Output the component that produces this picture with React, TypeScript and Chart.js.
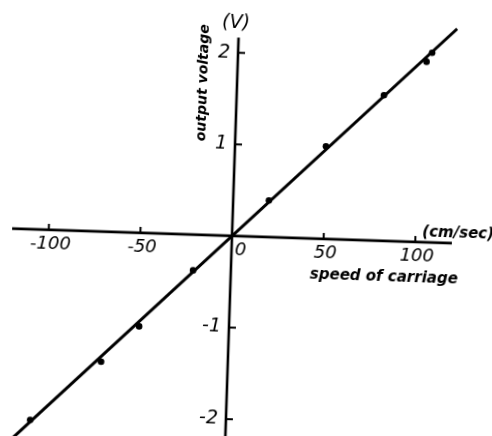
import { useEffect, useRef } from "react";
import { Chart, registerables } from "chart.js";

Chart.register(...registerables);

// Measured output voltage against carriage speed
const speeds = [-106.7, -69.1, -49.0, -20.6, 19.5, 49.6, 80.3, 102.9, 105.8];
const voltages = [-2.08, -1.42, -1.02, -0.39, 0.4, 1.01, 1.59, 1.97, 2.07];

// Straight calibration line through the origin
const fitSpeeds = [-125, 119];
const fitVoltages = [-2.46, 2.34];

// Tick values and their labels
const xTicks = [-100, -50, 0, 50, 100];
const xTickLabels = ["-100", "-50", "0", "50", "100"];
const yTicks = [-2, -1, 1, 2];
const yTickLabels = ["-2", "-1", "1", "2"];

const FONT = "'DejaVu Sans', sans-serif";

// Axes crossing at the origin, with hand-lettered style labels
const crossAxes = {
  id: "crossAxes",
  beforeDatasetsDraw(chart: any) {
    const { ctx } = chart;
    const xs = chart.scales.x;
    const ys = chart.scales.y;
    const x0 = xs.getPixelForValue(0);
    const y0 = ys.getPixelForValue(0);
    ctx.save();
    ctx.strokeStyle = "#000";
    ctx.fillStyle = "#000";
    ctx.lineCap = "butt";

    ctx.lineWidth = 2.6;
    ctx.beginPath();
    ctx.moveTo(xs.getPixelForValue(-120), y0);
    ctx.lineTo(xs.getPixelForValue(120), y0);
    ctx.stroke();
    ctx.beginPath();
    ctx.moveTo(x0, ys.getPixelForValue(2.165));
    ctx.lineTo(x0, ys.getPixelForValue(-2.5));
    ctx.stroke();

    ctx.lineWidth = 2;
    xTicks.forEach((v) => {
      if (v === 0) return;
      const px = xs.getPixelForValue(v);
      ctx.beginPath();
      ctx.moveTo(px, y0);
      ctx.lineTo(px, y0 - 6);
      ctx.stroke();
    });
    yTicks.forEach((v) => {
      const py = ys.getPixelForValue(v);
      ctx.beginPath();
      ctx.moveTo(x0, py);
      ctx.lineTo(x0 + 7, py);
      ctx.stroke();
    });

    ctx.font = `italic 18px ${FONT}`;
    ctx.textBaseline = "middle";
    ctx.textAlign = "center";
    xTicks.forEach((v, i) => {
      const px = xs.getPixelForValue(v);
      const dx = v === 0 ? 9 : 2;
      ctx.fillText(xTickLabels[i], px + dx, y0 + 14);
    });
    ctx.textAlign = "right";
    ctx.font = `italic 19px ${FONT}`;
    yTicks.forEach((v, i) => {
      const py = ys.getPixelForValue(v);
      ctx.fillText(yTickLabels[i], x0 - 8, py);
    });

    ctx.textAlign = "center";
    ctx.font = `italic bold 15px ${FONT}`;
    ctx.fillText("speed of carriage", xs.getPixelForValue(83.5), y0 + 36);
    ctx.textAlign = "left";
    ctx.fillText("(cm/sec)", xs.getPixelForValue(103.7), y0 - 10);

    ctx.textAlign = "center";
    ctx.font = `italic 19px ${FONT}`;
    ctx.fillText("(V)", x0 - 3, ys.getPixelForValue(2.32));

    ctx.font = `italic bold 14px ${FONT}`;
    ctx.translate(x0 - 34, ys.getPixelForValue(1.66));
    ctx.rotate(-Math.PI / 2);
    ctx.fillText("output voltage", 0, 0);
    ctx.restore();
  },
};

export default function App() {
  const canvasRef = useRef<HTMLCanvasElement | null>(null);

  useEffect(() => {
    document.body.style.margin = "0";
    const canvas = canvasRef.current;
    if (!canvas) return;
    const chart = new Chart(canvas, {
      type: "scatter",
      data: {
        datasets: [
          {
            label: "measured",
            data: speeds.map((s, i) => ({ x: s, y: voltages[i] })),
            pointRadius: 3.3,
            pointBackgroundColor: "#000",
            pointBorderColor: "#000",
            pointBorderWidth: 0,
            showLine: false,
          },
          {
            label: "fit",
            data: fitSpeeds.map((s, i) => ({ x: s, y: fitVoltages[i] })),
            showLine: true,
            borderColor: "#000",
            borderWidth: 3,
            pointRadius: 0,
            clip: false as any,
          },
        ],
      },
      options: {
        animation: false,
        responsive: false,
        devicePixelRatio: 1,
        layout: { padding: { left: 42, right: 78, top: 46, bottom: 5 } },
        plugins: {
          legend: { display: false },
          tooltip: { enabled: false },
        },
        scales: {
          x: { type: "linear", min: -120, max: 120, display: false },
          y: { type: "linear", min: -2.5, max: 2.4, display: false },
        },
      },
      plugins: [crossAxes],
    });
    return () => chart.destroy();
  }, []);

  return (
    <div
      style={{
        position: "relative",
        width: 492,
        height: 436,
        overflow: "hidden",
        background: "#fff",
      }}
    >
      <canvas
        ref={canvasRef}
        width={560}
        height={500}
        style={{
          position: "absolute",
          left: -30,
          top: -30,
          width: 560,
          height: 500,
          transform: "rotate(1.9deg)",
          transformOrigin: "262px 266px",
        }}
      />
    </div>
  );
}
